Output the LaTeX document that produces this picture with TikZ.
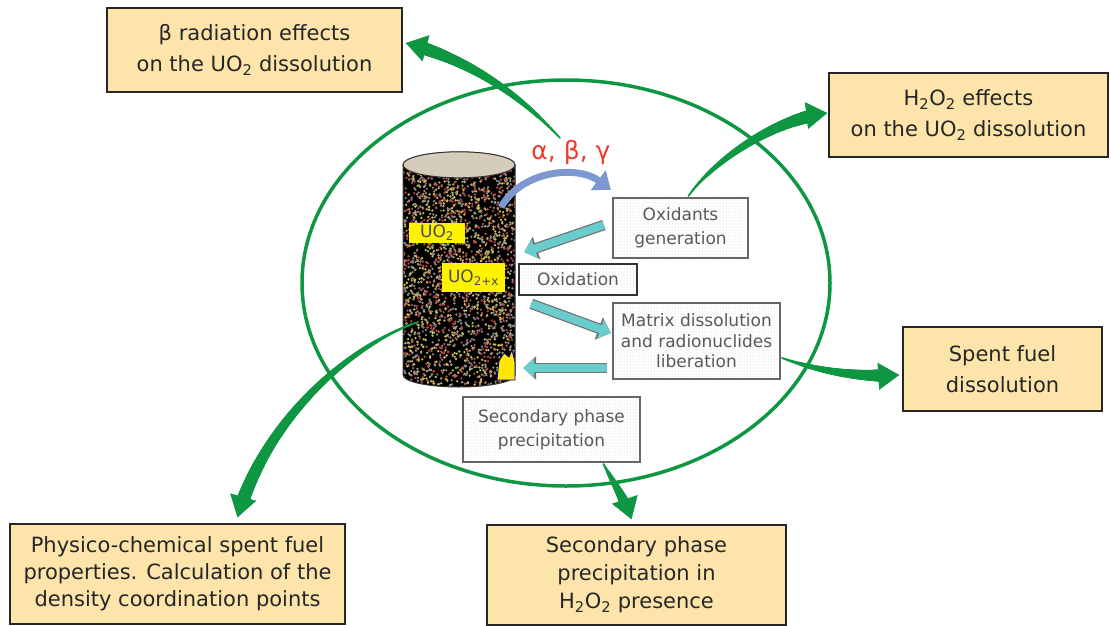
\documentclass[tikz,border=0pt]{standalone}
\usepackage{fontspec}
\setmainfont{DejaVu Sans}
\usepackage{xcolor}
\usetikzlibrary{arrows.meta,decorations.markings,patterns}

\definecolor{flowgreen}{RGB}{14,150,66}
\definecolor{boxfill}{RGB}{253,228,170}
\definecolor{cyanfill}{RGB}{105,205,205}
\definecolor{bluefill}{RGB}{125,152,208}
\definecolor{raysred}{RGB}{235,60,45}
\definecolor{topface}{RGB}{214,204,188}
\definecolor{speck0}{RGB}{196,186,92}
\definecolor{speck1}{RGB}{178,72,68}
\definecolor{speck2}{RGB}{140,140,140}

\begin{document}
\pgfmathsetseed{11}
\begin{tikzpicture}[x=1pt,y=-1pt,
  topic/.style={draw=black!85,line width=1.4,fill=boxfill,inner sep=0pt,align=center,
    text=black!85,font=\fontsize{21}{31}\selectfont},
  stage/.style={draw=black!60,line width=2.2,preaction={fill=white},pattern=dots,
    pattern color=black!22,inner sep=0pt,align=center,text=black!65,
    font=\fontsize{17}{24}\selectfont},
  tag/.style={fill=yellow,inner sep=0pt,text=black!70,font=\fontsize{17}{20}\selectfont},
  greenflow/.style={draw=flowgreen,line width=0.5,-{Triangle[length=21pt,width=27pt]},
    postaction={decorate,decoration={markings,
      mark=between positions 0 and -16pt step 0.8pt with {
        \pgfmathsetmacro\r{1+6*\pgfkeysvalueof{/pgf/decoration/mark info/distance from start}/\pgfdecoratedpathlength}
        \fill[flowgreen] (0pt,0pt) circle (\r pt);}}}},
  cyanflow/.style={draw=cyanfill,line width=8,-{Triangle[length=11pt,width=19pt]},
    preaction={draw=black!55,line width=10.5,-{Triangle[length=13pt,width=23pt]}}},
  blueflow/.style={draw=bluefill,line width=7,-{Triangle[length=16pt,width=24pt]}}]
\useasboundingbox (0,0) rectangle (1111,626);

\draw[flowgreen,line width=3.5] (566,283) ellipse [x radius=264,y radius=203];

% fuel pellet
\node[minimum width=112pt,minimum height=235pt,inner sep=0pt] (pellet) at (459,269.5) {};
\path[fill=black,draw=black!80,line width=1,path picture={
    \foreach \i in {1,...,2600} {
      \pgfmathsetmacro\px{400+118*rnd}
      \pgfmathsetmacro\py{148+242*rnd}
      \pgfmathtruncatemacro\k{mod(\i,3)}
      \fill[speck\k] (\px,\py) circle [radius=1.3];
    }}]
  (403,165) -- (403,375) arc [start angle=180,end angle=0,x radius=56,y radius=12]
  -- (515,165) arc [start angle=0,end angle=-180,x radius=56,y radius=13] -- cycle;
\filldraw[fill=topface,draw=black!80,line width=1] ([shift={(0,13)}]pellet.north) ellipse [x radius=56,y radius=13];
\filldraw[fill=yellow!90!orange,draw=blue!60!black,line width=0.8]
  (497,380) -- (499,361) -- (504,353) -- (509,357) -- (512,350) -- (515,362) -- (515,380) -- cycle;

\node[tag,minimum width=56pt,minimum height=20pt] (uo2) at (437,233) {UO\textsubscript{2}};
\node[tag,minimum width=63pt,minimum height=29pt] (uo2x) at (473.5,277.5) {UO\textsubscript{2+x}};

\node[text=raysred,font=\fontsize{25}{25}\selectfont] (rays) at (571,153) {α, β, γ};

\node[stage,minimum width=135pt,minimum height=60pt] (oxid) at (680.5,228) {Oxidants\\generation};
\node[stage,draw=black!80,line width=1.6,minimum width=118pt,minimum height=31pt] (oxidation) at (578,279.5) {Oxidation};
\node[stage,minimum width=167pt,minimum height=76pt,font=\fontsize{17}{20.5}\selectfont] (matrix) at (696.5,341) {Matrix dissolution\\and radionuclides\\liberation};
\node[stage,minimum width=177pt,minimum height=65pt] (precip) at (551.5,429.5) {Secondary phase\\precipitation};

\node[topic,minimum width=295pt,minimum height=84pt] (beta) at (254.5,50) {β radiation effects\\on the UO\textsubscript{2} dissolution};
\node[topic,minimum width=279pt,minimum height=84pt] (h2o2) at (968.5,115) {H\textsubscript{2}O\textsubscript{2} effects\\on the UO\textsubscript{2} dissolution};
\node[topic,minimum width=199pt,minimum height=84pt] (spent) at (1002.5,369) {Spent fuel\\dissolution};
\node[topic,minimum width=335pt,minimum height=100pt,font=\fontsize{21}{27}\selectfont] (physico) at (177.5,574) {Physico-chemical spent fuel\\properties. Calculation of the\\density coordination points};
\node[topic,minimum width=299pt,minimum height=100pt,font=\fontsize{21}{28}\selectfont] (secondary) at (636.5,575) {Secondary phase\\precipitation in\\H\textsubscript{2}O\textsubscript{2} presence};

\coordinate (betasrc) at (560,138);
\coordinate (fuelsrc) at (418,322);

\draw[greenflow] (betasrc) .. controls (520,95) and (470,60) .. ([shift={(3,-7)}]beta.east);
\draw[greenflow] ([shift={(8,-1)}]oxid.north) .. controls (710,165) and (770,120) .. ([shift={(-1,-2)}]h2o2.west);
\draw[greenflow] ([shift={(1,17)}]matrix.east) .. controls (810,368) and (850,378) .. ([shift={(-3,6)}]spent.west);
\draw[greenflow] (fuelsrc) .. controls (350,345) and (265,420) .. ([shift={(60,-6)}]physico.north);
\draw[greenflow] ([shift={(52,1)}]precip.south) .. controls (612,480) and (625,500) .. ([shift={(-5,-5)}]secondary.north);

\draw[blueflow] ([shift={(-14,-62.5)}]pellet.east) .. controls (522,170) and (578,165) .. ([shift={(-1,-7)}]oxid.north west);

\draw[cyanflow] ([shift={(-8,-3)}]oxid.west) -- ([shift={(6,-11)}]oxidation.north west);
\draw[cyanflow] ([shift={(13,8)}]oxidation.south west) -- ([shift={(-1,-8)}]matrix.west);
\draw[cyanflow] ([shift={(-5,27)}]matrix.west) -- ([shift={(8,98.5)}]pellet.east);
\end{tikzpicture}
\end{document}
